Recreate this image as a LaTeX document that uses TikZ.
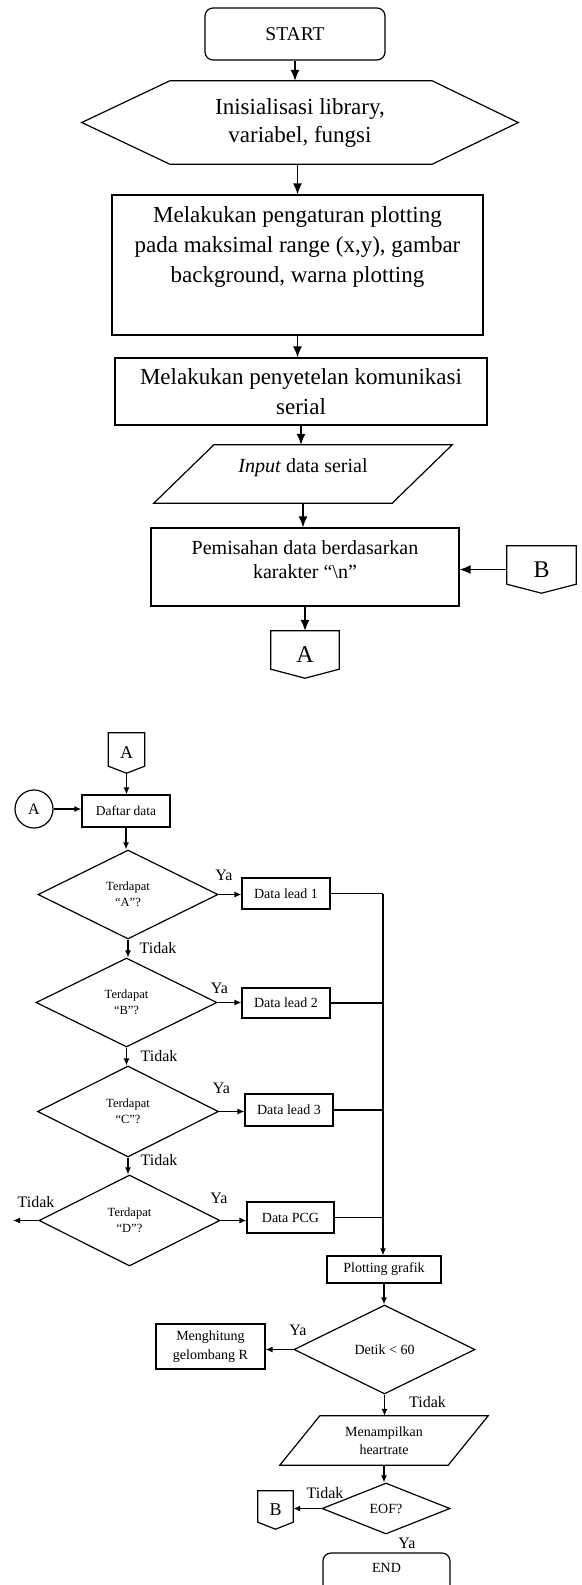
\documentclass[tikz,border=0pt]{standalone}
\usepackage{fontspec}
\setmainfont{Liberation Serif}
\usetikzlibrary{shapes.geometric,arrows.meta}

\tikzset{
	box/.style={draw, line width=1.2pt, inner sep=0pt, align=center},
	term/.style={box, rounded corners=8pt},
	dec/.style={box, diamond},
	free/.style={inner sep=0pt, align=center},
	edge/.style={line width=1.2pt},
	lbl/.style={inner sep=0pt, font=\fontsize{16}{16}\selectfont},
	flow/.style={-{Latex[length=7pt,width=6pt]}, line width=1.2pt},
	flowL/.style={-{Latex[length=11pt,width=9pt]}, line width=1.2pt},
}

\begin{document}
\begin{tikzpicture}[x=1pt, y=-1pt]
		\useasboundingbox (0,0) rectangle (581,1585);
		% bagian atas
		\node[term, minimum width=180pt, minimum height=52pt, font=\fontsize{19.5}{24}\selectfont] (start) at (295,34) {START};
		\node[free, minimum width=436pt, minimum height=83pt, font=\fontsize{23}{28}\selectfont] (init) at (300,122.5) {Inisialisasi library,\\variabel, fungsi};
		\draw[edge] (init.west) -- ([xshift=88pt]init.north west) -- ([xshift=-86pt]init.north east) -- (init.east) -- ([xshift=-86pt]init.south east) -- ([xshift=88pt]init.south west) -- cycle;
		\node[box, minimum width=371pt, minimum height=140pt] (plot) at (297.5,265) {};
		\node[free, font=\fontsize{23}{30}\selectfont] (plotT) at (297.5,247) {Melakukan pengaturan plotting\\pada maksimal range (x,y), gambar\\background, warna plotting};
		\node[box, minimum width=372pt, minimum height=67pt, font=\fontsize{23}{30}\selectfont] (serial) at (301,391.5) {Melakukan penyetelan komunikasi\\serial};
		\node[free, minimum width=298pt, minimum height=58pt] (inp) at (303,474) {};
		\draw[edge] ([xshift=60pt]inp.north west) -- (inp.north east) -- ([xshift=-60pt]inp.south east) -- (inp.south west) -- cycle;
		\node[free, font=\fontsize{20}{24}\selectfont] (inpT) at (303,468) {\textit{Input} data serial};
		\node[box, minimum width=308pt, minimum height=78pt] (split) at (305,567) {};
		\node[free, font=\fontsize{20}{24}\selectfont] (splitT) at (305,560) {Pemisahan data berdasarkan\\karakter “\textbackslash n”};
		\node[free, minimum width=69pt, minimum height=47pt, font=\fontsize{24}{24}\selectfont] (offB) at (541.5,569.5) {B};
		\draw[edge] (offB.north west) -- (offB.north east) -- ([yshift=9pt]offB.south east) -- (offB.south) -- ([yshift=9pt]offB.south west) -- cycle;
		\node[free, minimum width=68pt, minimum height=47pt, font=\fontsize{24}{24}\selectfont] (offA) at (305,654.5) {A};
		\draw[edge] (offA.north west) -- (offA.north east) -- ([yshift=9pt]offA.south east) -- (offA.south) -- ([yshift=9pt]offA.south west) -- cycle;

		\draw[flowL] (start.south) -- (start.south |- init.north);
		\draw[flowL] (init.south -| plot.north) -- (plot.north);
		\draw[flowL] (plot.south) -- (plot.south |- serial.north);
		\draw[flowL] (serial.south) -- (serial.south |- inp.north);
		\draw[flowL] (inp.south) -- (inp.south |- split.north);
		\draw[flowL] (offB.west) -- (offB.west -| split.east);
		\draw[flowL] (split.south) -- (split.south |- offA.north);

		% bagian bawah
		\node[free, minimum width=36pt, minimum height=40pt, font=\fontsize{18}{18}\selectfont] (offA2) at (126.5,753) {A};
		\draw[edge] (offA2.north west) -- (offA2.north east) -- ([yshift=7pt]offA2.south east) -- (offA2.south) -- ([yshift=7pt]offA2.south west) -- cycle;
		\node[draw, circle, line width=1.2pt, minimum size=38pt, inner sep=0pt, font=\fontsize{16}{16}\selectfont] (circA) at (34,809) {A};
		\node[box, minimum width=88pt, minimum height=32pt, font=\fontsize{13.5}{16}\selectfont] (daftar) at (126,811) {Daftar data};

		\node[dec, minimum width=180pt, minimum height=89pt, font=\fontsize{12.5}{16}\selectfont] (decA) at (128,894.5) {Terdapat\\“A”?};
		\node[dec, minimum width=181pt, minimum height=89pt, font=\fontsize{12.5}{16}\selectfont] (decB) at (126.5,1002.5) {Terdapat\\“B”?};
		\node[dec, minimum width=181pt, minimum height=91pt, font=\fontsize{12.5}{16}\selectfont] (decC) at (128,1111.5) {Terdapat\\“C”?};
		\node[dec, minimum width=181pt, minimum height=91pt, font=\fontsize{12.5}{16}\selectfont] (decD) at (129.5,1220.5) {Terdapat\\“D”?};

		\node[box, minimum width=88pt, minimum height=31pt, font=\fontsize{14}{16}\selectfont] (lead1) at (286,893.5) {Data lead 1};
		\node[box, minimum width=88pt, minimum height=30pt, font=\fontsize{14}{16}\selectfont] (lead2) at (286,1003) {Data lead 2};
		\node[box, minimum width=88pt, minimum height=32pt, font=\fontsize{14}{16}\selectfont] (lead3) at (289,1110) {Data lead 3};
		\node[box, minimum width=87pt, minimum height=31pt, font=\fontsize{14}{16}\selectfont] (pcg) at (290.5,1217.5) {Data PCG};

		\node[box, minimum width=114pt, minimum height=27pt, font=\fontsize{14}{16}\selectfont] (plotg) at (384,1269.5) {Plotting grafik};
		\node[dec, minimum width=181pt, minimum height=89pt, font=\fontsize{14}{16}\selectfont] (decT) at (384.5,1349.5) {Detik < 60};
		\node[box, minimum width=109pt, minimum height=45pt, font=\fontsize{14}{19}\selectfont] (hitung) at (210.5,1346.5) {Menghitung\\gelombang R};
		\node[free, minimum width=208pt, minimum height=49pt, font=\fontsize{14}{18}\selectfont] (show) at (384,1440.5) {Menampilkan\\heartrate};
		\draw[edge] ([xshift=40pt]show.north west) -- (show.north east) -- ([xshift=-40pt]show.south east) -- (show.south west) -- cycle;
		\node[dec, minimum width=128pt, minimum height=51pt, font=\fontsize{14}{16}\selectfont] (decE) at (386,1508.5) {EOF?};
		\node[free, minimum width=35pt, minimum height=38pt, font=\fontsize{18}{18}\selectfont] (offB2) at (275.5,1510) {B};
		\draw[edge] (offB2.north west) -- (offB2.north east) -- ([yshift=7pt]offB2.south east) -- (offB2.south) -- ([yshift=7pt]offB2.south west) -- cycle;
		\node[term, minimum width=127pt, minimum height=47pt] (finish) at (386.5,1576.5) {};
		\node[free, font=\fontsize{14}{16}\selectfont] (finishT) at (386.5,1568) {END};

		% label Ya / Tidak
		\node[lbl] (yaA) at (224,875) {Ya};
		\node[lbl] (yaB) at (219.5,988) {Ya};
		\node[lbl] (yaC) at (221.5,1088) {Ya};
		\node[lbl] (yaD) at (219,1198) {Ya};
		\node[lbl] (yaT) at (298,1330) {Ya};
		\node[lbl] (yaE) at (407,1543) {Ya};
		\node[lbl] (tdA) at (158,948) {Tidak};
		\node[lbl] (tdB) at (159,1056) {Tidak};
		\node[lbl] (tdC) at (159,1160) {Tidak};
		\node[lbl] (tdD) at (36,1202) {Tidak};
		\node[lbl] (tdT) at (427.5,1402) {Tidak};
		\node[lbl] (tdE) at (325,1493) {Tidak};

		\draw[flow] (offA2.south) -- (offA2.south |- daftar.north);
		\draw[flow] (circA.east) -- (circA.east -| daftar.west);
		\draw[flow] (daftar.south) -- (daftar.south |- decA.north);
		\draw[flow] (decA.east) -- (decA.east -| lead1.west);
		\draw[flow] (decB.east) -- (decB.east -| lead2.west);
		\draw[flow] (decC.east) -- (decC.east -| lead3.west);
		\draw[flow] (decD.east) -- (decD.east -| pcg.west);
		\draw[flow] (decA.south) -- (decA.south |- decB.north);
		\draw[flow] (decB.south) -- (decB.south |- decC.north);
		\draw[flow] (decC.south) -- (decC.south |- decD.north);
		\coordinate (outD) at (13,1220.5);
		\draw[flow] (decD.west) -- (outD);
		\coordinate (bus) at (383,893.5);
		\draw[edge] (lead1.east) -- (bus);
		\draw[edge] (lead2.east) -- (lead2.east -| bus);
		\draw[edge] (lead3.east) -- (lead3.east -| bus);
		\draw[edge] (pcg.east) -- (pcg.east -| bus);
		\draw[flow] (bus) -- (bus |- plotg.north);
		\draw[flow] (plotg.south) -- (plotg.south |- decT.north);
		\draw[flow] (decT.west) -- (decT.west -| hitung.east);
		\draw[flow] (decT.south) -- (decT.south |- show.north);
		\draw[flow] (show.south) -- (show.south |- decE.north);
		\draw[flow] (decE.west) -- (decE.west -| offB2.east);
	\end{tikzpicture}
\end{document}
